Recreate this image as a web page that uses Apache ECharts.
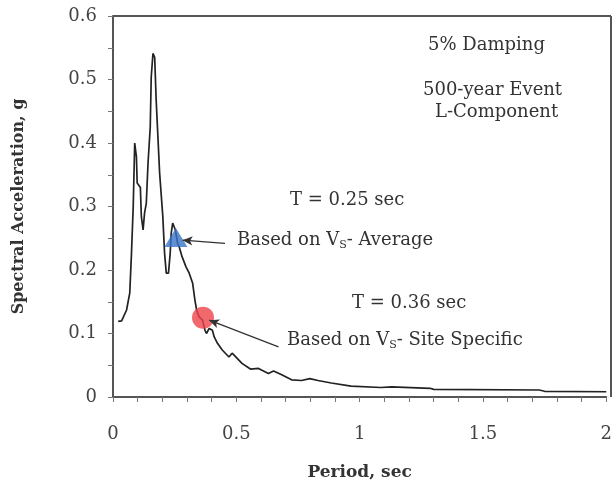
<!DOCTYPE html>
<html>
<head>
<meta charset="UTF-8">
<title>Spectral Acceleration</title>
<script src="https://cdn.jsdelivr.net/npm/echarts@6/dist/echarts.min.js"></script>
<style>
  html, body { margin: 0; padding: 0; background: #fff; }
  #chart { width: 615px; height: 486px; }
</style>
</head>
<body>
<div id="chart"></div>
<script>
// period (sec) vs spectral acceleration (g)
var periods = [0.021, 0.035, 0.055, 0.068, 0.075, 0.082, 0.088, 0.095, 0.098, 0.106, 0.111, 0.115, 0.122, 0.128, 0.135, 0.142, 0.148, 0.151, 0.155, 0.162, 0.169, 0.175, 0.189, 0.195, 0.202, 0.209, 0.216, 0.225, 0.232, 0.236, 0.242, 0.253, 0.262, 0.268, 0.280, 0.296, 0.309, 0.323, 0.332, 0.339, 0.349, 0.363, 0.373, 0.379, 0.390, 0.403, 0.410, 0.423, 0.443, 0.470, 0.483, 0.523, 0.557, 0.590, 0.630, 0.651, 0.684, 0.724, 0.764, 0.798, 0.831, 0.885, 0.965, 1.086, 1.130, 1.286, 1.300, 1.728, 1.750, 2.000];
var accel = [0.119, 0.120, 0.137, 0.164, 0.227, 0.300, 0.400, 0.378, 0.337, 0.339, 0.330, 0.284, 0.263, 0.290, 0.305, 0.368, 0.370, 0.425, 0.504, 0.541, 0.535, 0.468, 0.353, 0.350, 0.284, 0.227, 0.195, 0.195, 0.227, 0.258, 0.274, 0.263, 0.242, 0.237, 0.221, 0.205, 0.195, 0.179, 0.153, 0.137, 0.126, 0.121, 0.105, 0.100, 0.108, 0.105, 0.095, 0.085, 0.074, 0.063, 0.069, 0.053, 0.044, 0.045, 0.037, 0.041, 0.035, 0.027, 0.026, 0.029, 0.026, 0.022, 0.017, 0.015, 0.016, 0.0137, 0.012, 0.011, 0.009, 0.0083];

var avgPoint = [0.255, 0.251];   // T = 0.25 sec
var sitePoint = [0.365, 0.125];  // T = 0.36 sec

var avgArrow = [[0.454, 0.242], [0.282, 0.247]];
var siteArrow = [[0.671, 0.079], [0.390, 0.121]];

var serif = '"DejaVu Serif", "Liberation Serif", serif';

var lineData = periods.map(function (p, i) { return [p, accel[i]]; });

var chart = echarts.init(document.getElementById('chart'));

function note(left, top, txt) {
  return { type: 'text', left: left, top: top, style: { text: txt, font: '18px ' + serif, fill: '#333' } };
}

function noteVs(left, top, rest) {
  return {
    type: 'text', left: left, top: top,
    style: {
      rich: {
        a: { fontFamily: serif, fontSize: 18, fill: '#333' },
        s: { fontFamily: serif, fontSize: 11, fill: '#333', padding: [10, 0, 0, 0] }
      },
      text: '{a|Based on V}{s|S}{a|' + rest + '}'
    }
  };
}

var option = {
  animation: false,
  grid: { left: 113, right: 4, top: 16, bottom: 89 },
  xAxis: {
    type: 'value',
    min: 0,
    max: 2,
    interval: 0.5,
    name: 'Period, sec',
    nameLocation: 'middle',
    nameGap: 67,
    nameTextStyle: { fontFamily: serif, fontWeight: 'bold', fontSize: 17, color: '#333' },
    axisLine: { show: true, lineStyle: { color: '#555', width: 2 } },
    axisTick: { show: true, inside: false, length: 5, lineStyle: { color: '#777' } },
    minorTick: { show: true, splitNumber: 5, length: 5, lineStyle: { color: '#777' } },
    splitLine: { show: false },
    axisLabel: {
      margin: 28,
      fontFamily: serif,
      fontSize: 18,
      color: '#444',
      formatter: function (v) { return String(v); }
    }
  },
  yAxis: {
    type: 'value',
    min: 0,
    max: 0.6,
    interval: 0.1,
    name: 'Spectral Acceleration, g',
    nameLocation: 'middle',
    nameGap: 86,
    nameTextStyle: { fontFamily: serif, fontWeight: 'bold', fontSize: 16, color: '#333' },
    axisLine: { show: true, lineStyle: { color: '#555', width: 2 } },
    axisTick: { show: true, inside: false, length: 5, lineStyle: { color: '#777' } },
    minorTick: { show: true, splitNumber: 2, length: 5, lineStyle: { color: '#777' } },
    splitLine: { show: false },
    axisLabel: {
      margin: 16,
      fontFamily: serif,
      fontSize: 18,
      color: '#444',
      formatter: function (v) { return v === 0 ? '0' : v.toFixed(1); }
    }
  },
  graphic: [
    // frame top and right
    { type: 'line', shape: { x1: 113, y1: 16, x2: 611, y2: 16 }, style: { stroke: '#555', lineWidth: 2 } },
    { type: 'line', shape: { x1: 611, y1: 16, x2: 611, y2: 397 }, style: { stroke: '#555', lineWidth: 2 } },
    note(428, 36, '5% Damping'),
    note(423, 81, '500-year Event'),
    note(435, 103, 'L-Component'),
    note(290, 191, 'T = 0.25 sec'),
    note(352, 294, 'T = 0.36 sec'),
    noteVs(237, 231, '- Average'),
    noteVs(287, 331, '- Site Specific')
  ],
  series: [
    {
      type: 'line',
      data: lineData,
      showSymbol: false,
      lineStyle: { color: '#222', width: 1.7 },
      z: 2,
      markLine: {
        silent: true,
        symbol: ['none', 'arrow'],
        symbolSize: [7, 10],
        label: { show: false },
        lineStyle: { color: '#333', width: 1.3, type: 'solid' },
        data: [
          [{ coord: avgArrow[0] }, { coord: avgArrow[1] }],
          [{ coord: siteArrow[0] }, { coord: siteArrow[1] }]
        ]
      }
    },
    {
      type: 'scatter',
      data: [avgPoint],
      symbol: 'triangle',
      symbolSize: [23, 19],
      itemStyle: { color: '#3a73c8' },
      z: 3
    },
    {
      type: 'scatter',
      data: [sitePoint],
      symbol: 'circle',
      symbolSize: 22,
      itemStyle: { color: '#ee4348' },
      z: 3
    }
  ]
};

chart.setOption(option);
</script>
</body>
</html>
